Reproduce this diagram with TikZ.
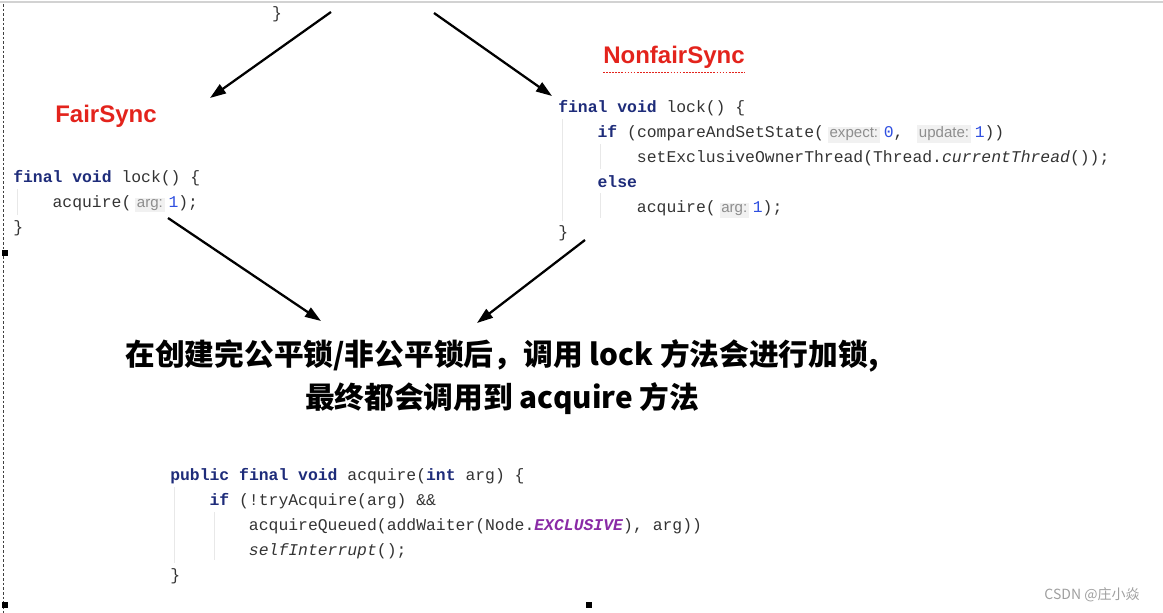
\documentclass[tikz,border=0pt]{standalone}
\usepackage{fontspec}
\setmainfont{Liberation Sans}
\setsansfont{Liberation Sans}
\setmonofont{Liberation Mono}
\newfontfamily\cjk{Noto Sans CJK SC}
\usetikzlibrary{arrows.meta}
\definecolor{kwblue}{HTML}{1E2C7A}
\definecolor{numblue}{HTML}{2F4FE0}
\definecolor{codegray}{HTML}{333333}
\definecolor{hintgray}{HTML}{8E8E8E}
\definecolor{hintbg}{HTML}{F1F1F1}
\definecolor{headred}{HTML}{E3231C}
\definecolor{constpurple}{HTML}{8A2BA6}
\newcommand\kw[1]{\textcolor{kwblue}{\textbf{#1}}}
\newcommand\numlit[1]{\textcolor{numblue}{#1}}
\newcommand\hint[1]{\hspace{3pt}{\setlength{\fboxsep}{1.2pt}\colorbox{hintbg}{\sffamily\fontsize{11.3}{11.3}\selectfont\color{hintgray}#1}}\hspace{3pt}}
\newcommand\ind{\hspace*{2.4em}}
\tikzset{
  code/.style={anchor=west,inner sep=0pt,align=left,text=codegray,font=\ttfamily\fontsize{12.3}{18.75}\selectfont},
  heading/.style={text=headred,font=\bfseries\fontsize{18}{18}\selectfont,inner sep=0pt},
  arr/.style={-{Triangle[length=12pt,width=8pt]},line width=1.7pt},
  guide/.style={gray!18,line width=0.6pt},
  handle/.style={fill=black}
}
\begin{document}
\begin{tikzpicture}[x=0.75pt,y=-0.75pt]
\useasboundingbox (0,0) rectangle (1163,613);
\draw[gray!35,line width=1pt] (0,2) -- (1163,2);
\draw[black!75,line width=0.6pt,dash pattern=on 2pt off 1.5pt] (3,4) -- (3,613);
\fill[handle] (2,250) rectangle (8,256);
\fill[handle] (2,602) rectangle (8,608);
\fill[handle] (586,602) rectangle (592,608);

\node[code,anchor=center] (topBrace) at (277,14) {\}};
\node[heading] (fairTitle) at (106,116) {FairSync};
\node[heading] (nonfairTitle) at (674,57) {NonfairSync};
\draw[headred,densely dotted,line width=1.3pt] ([yshift=-3pt]nonfairTitle.south west) -- ([yshift=-3pt]nonfairTitle.south east);

\node[code] (fairCode) at (13,203) {\kw{final} \kw{void} lock() \{\\
\ind acquire(\hint{arg:}\numlit{1});\\
\}};
\node[code] (nonfairCode) at (558,171) {\kw{final} \kw{void} lock() \{\\
\ind\kw{if} (compareAndSetState(\hint{expect:}\numlit{0}, \hint{update:}\numlit{1}))\\
\ind\ind setExclusiveOwnerThread(Thread.\textit{currentThread}());\\
\ind\kw{else}\\
\ind\ind acquire(\hint{arg:}\numlit{1});\\
\}};
\node[code] (acquireCode) at (170,526) {\kw{public} \kw{final} \kw{void} acquire(\kw{int} arg) \{\\
\ind\kw{if} (!tryAcquire(arg) \&\&\\
\ind\ind acquireQueued(addWaiter(Node.\textcolor{constpurple}{\textbf{\textit{EXCLUSIVE}}}), arg))\\
\ind\ind\textit{selfInterrupt}();\\
\}};

\draw[guide] (17,189) -- (17,215);
\draw[guide] (562,119) -- (562,221);
\draw[guide] (600,144) -- (600,169);
\draw[guide] (600,193) -- (600,218);
\draw[guide] (174,487) -- (174,563);
\draw[guide] (214,512) -- (214,560);

\node[font=\cjk\bfseries\fontsize{22.3}{32.3}\selectfont,align=center,inner sep=0pt] (summary) at (502,377) {在创建完公平锁/非公平锁后，调用 lock 方法会进行加锁,\\最终都会调用到 acquire 方法};

\coordinate (topLeft) at (331,12);
\coordinate (topRight) at (434,13);
\coordinate (fairIn) at (210,98);
\coordinate (nonfairIn) at (552,96);
\coordinate (fairOut) at (168,218);
\coordinate (nonfairOut) at (585,240);
\coordinate (summaryL) at (321,321);
\coordinate (summaryR) at (477,323);
\draw[arr] (topLeft) -- (fairIn);
\draw[arr] (topRight) -- (nonfairIn);
\draw[arr] (fairOut) -- (summaryL);
\draw[arr] (nonfairOut) -- (summaryR);

\node[font=\cjk\fontsize{10.5}{10.5}\selectfont,text=gray!75,inner sep=0pt] (mark) at (1092,595) {CSDN @庄小焱};
\end{tikzpicture}
\end{document}
